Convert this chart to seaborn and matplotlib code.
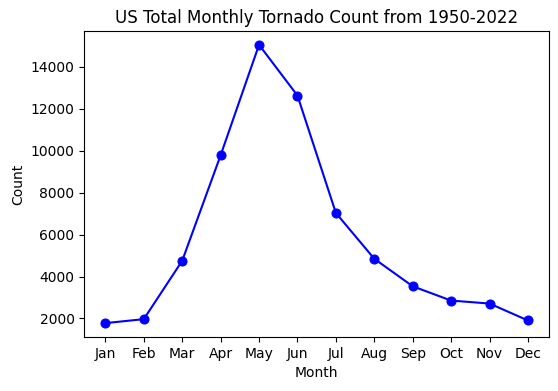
import matplotlib
matplotlib.use('Agg')
import matplotlib.pyplot as plt
import seaborn as sns
import pandas as pd

# Contagem mensal total de tornados (EUA, 1950-2022)
months = ['Jan', 'Feb', 'Mar', 'Apr', 'May', 'Jun', 'Jul', 'Aug', 'Sep', 'Oct', 'Nov', 'Dec']
counts = [1778, 1968, 4753, 9785, 15054, 12633, 7032, 4848, 3535, 2854, 2712, 1905]

dados = pd.DataFrame({'Month': months, 'Count': counts})

fig, ax = plt.subplots(figsize=(5.58, 3.91), dpi=100)
sns.lineplot(data=dados, x='Month', y='Count', marker='o', color='blue',
             markersize=6.5, markeredgecolor='blue', sort=False, ax=ax)
ax.set_title('US Total Monthly Tornado Count from 1950-2022')
ax.set_xlabel('Month')
ax.set_ylabel('Count')
fig.subplots_adjust(left=0.151, right=0.984, top=0.921, bottom=0.138)
fig.savefig('out.png', dpi=100)
